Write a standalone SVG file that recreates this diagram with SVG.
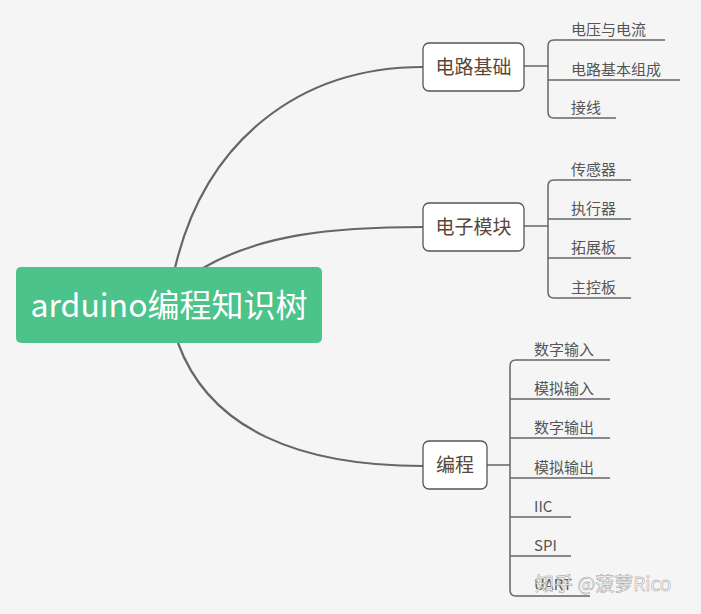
<svg xmlns="http://www.w3.org/2000/svg" width="701" height="614" viewBox="0 0 701 614">
<style>
.c{fill:none;stroke:#666;stroke-width:2.2}
.s{fill:none;stroke:#666;stroke-width:1.5}
.n{fill:#fff;stroke:#555;stroke-width:1.3}
.t{font-family:"Noto Sans CJK SC","Noto Sans",sans-serif;font-size:19px;fill:#5a4636;text-anchor:middle}
.l{font-family:"Noto Sans CJK SC","Noto Sans",sans-serif;font-size:15px;fill:#555}
</style>
<rect width="701" height="614" fill="#f5f5f5"/>
<g id="connectors">
<path class="c" d="M175,268 C205,140 300,67 423,67"/>
<path class="c" d="M203,268 C260,235 330,227 423,227"/>
<path class="c" d="M178,343 C210,430 300,466 423,466"/>
<path class="s" d="M524,66 H548 M665,40 H554 Q548,40 548,46 V112 Q548,118 554,118 H616 M548,80 H680"/>
<path class="s" d="M524,226 H548 M631,180 H554 Q548,180 548,186 V292 Q548,298 554,298 H631 M548,219 H631 M548,258 H631"/>
<path class="s" d="M487,465 H510 M610,360 H516 Q510,360 510,366 V590 Q510,596 516,596 H590 M510,399 H610 M510,438 H610 M510,478 H610 M510,517 H571 M510,556 H571"/>
</g>
<g id="root"><rect x="16" y="267" width="306" height="76" rx="5" fill="#4cc38a"/>
<text x="169" y="317" font-family="'Noto Sans CJK SC','Noto Sans',sans-serif" font-size="32" fill="#fff" text-anchor="middle">arduino编程知识树</text></g>
<g id="n1"><rect class="n" x="423" y="43" width="101" height="48" rx="6"/><text class="t" x="473.5" y="74">电路基础</text></g>
<g id="n2"><rect class="n" x="423" y="203" width="101" height="48" rx="6"/><text class="t" x="473.5" y="234">电子模块</text></g>
<g id="n3"><rect class="n" x="423" y="441" width="64" height="48" rx="6"/><text class="t" x="455" y="472">编程</text></g>
<g id="leaves1"><text class="l" x="571" y="35">电压与电流</text><text class="l" x="571" y="75">电路基本组成</text><text class="l" x="571" y="113">接线</text></g>
<g id="leaves2"><text class="l" x="571" y="175">传感器</text><text class="l" x="571" y="214">执行器</text><text class="l" x="571" y="253">拓展板</text><text class="l" x="571" y="293">主控板</text></g>
<g id="leaves3"><text class="l" x="534" y="355">数字输入</text><text class="l" x="534" y="394">模拟输入</text><text class="l" x="534" y="433">数字输出</text><text class="l" x="534" y="473">模拟输出</text><text class="l" x="534" y="512">IIC</text><text class="l" x="534" y="551">SPI</text><text class="l" x="534" y="590">UART</text></g>
<text x="535" y="591" font-family="'Noto Sans CJK SC',sans-serif" font-size="19" fill="#fff" fill-opacity="0.85" stroke="#999" stroke-width="0.5">知乎 @菠萝Rico</text>
</svg>
